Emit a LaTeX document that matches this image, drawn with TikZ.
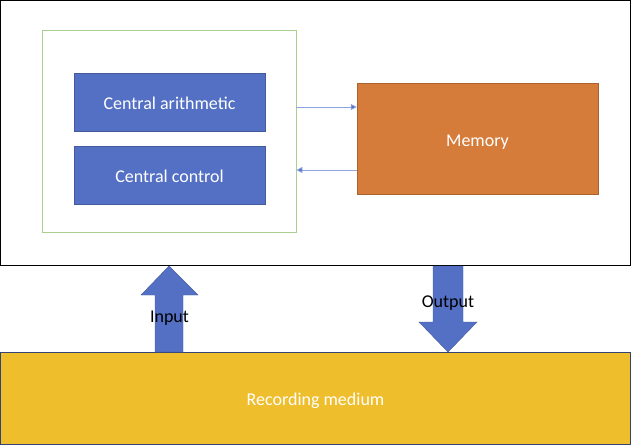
\documentclass[tikz,border=0pt]{standalone}
\usepackage{fontspec}
\setmainfont{Carlito}
\usetikzlibrary{arrows.meta,calc,positioning}
\definecolor{UnitClr}{RGB}{84,112,196}
\definecolor{MemClr}{RGB}{214,124,58}
\definecolor{MediumClr}{RGB}{239,190,45}
\definecolor{FrameClr}{RGB}{169,208,142}
\definecolor{LinkClr}{RGB}{140,165,225}

\begin{document}
\begin{tikzpicture}[x=1pt,y=-1pt,
  unit/.style={draw=UnitClr!80!black,line width=0.4pt,fill=UnitClr,text=white,
    minimum width=191pt,minimum height=58pt,inner sep=0pt,text height=15pt,text depth=1pt,
    font=\fontsize{18}{21}\selectfont},
  link/.style={draw=LinkClr,line width=0.8pt,-{Triangle[length=6pt,width=6pt,fill=UnitClr]}},
  block/.style={fill=UnitClr,draw=UnitClr!80!black,line width=0.4pt},
  tag/.style={font=\fontsize{18}{21}\selectfont}]
\useasboundingbox (0,0) rectangle (631,445);

% computer
\draw[line width=1pt] (0.5,0.5) rectangle (630,265.5);
\node[draw=FrameClr,line width=0.8pt,minimum width=254pt,minimum height=202pt,inner sep=0pt]
  (cpu) at (169,131) {};
\node[unit] (arith) at (169.5,102) {Central arithmetic};
\node[unit] (ctrl) at (169.5,175) {Central control};
\node[unit,draw=MemClr!80!black,fill=MemClr,minimum width=241pt,minimum height=111pt]
  (mem) at (477.5,139) {Memory};

\draw[link] (cpu.east |- 0,107) -- (mem.west |- 0,107);
\draw[link] (mem.west |- 0,170) -- (cpu.east |- 0,170);

% recording medium
\node[unit,fill=MediumClr,draw=UnitClr!60!black,line width=0.6pt,minimum width=630pt,
  minimum height=92pt] (rec) at (315.5,398) {Recording medium};

% input / output
\coordinate (in) at (169,266);
\coordinate (out) at (448,352);
\draw[block] (in) -- ++(29,29) -- ++(-15,0) -- (183,352) -- (155,352) -- (155,295)
  -- ++(-14,0) -- cycle;
\draw[block] (out) -- ++(29,-30) -- ++(-14,0) -- (463,266) -- (433,266) -- (433,322)
  -- ++(-14,0) -- cycle;
\node[tag] (inp) at (169.5,318) {Input};
\node[tag] (outp) at (448,303) {Output};

\end{tikzpicture}
\end{document}
